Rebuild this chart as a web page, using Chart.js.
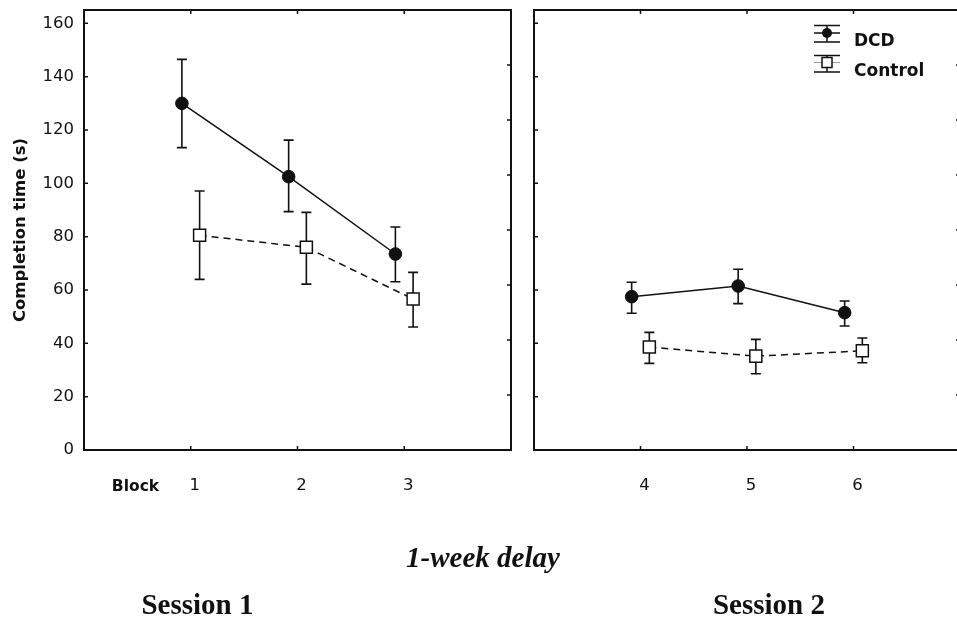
<!DOCTYPE html>
<html>
<head>
<meta charset="utf-8">
<script src="https://cdn.jsdelivr.net/npm/chart.js@4/dist/chart.umd.min.js"></script>
<style>
html,body{margin:0;padding:0;width:957px;height:619px;overflow:hidden;background:#fff;}
canvas{position:absolute;top:0;}
#c1{left:0;}
#c2{left:520px;}
.t{position:absolute;white-space:nowrap;color:#111;transform:translateX(-50%);}
</style>
</head>
<body>
<canvas id="c1" width="520" height="619"></canvas>
<canvas id="c2" width="442" height="619"></canvas>
<div class="t" style="font:bold 15.5px/1 'DejaVu Sans';left:135.5px;top:479.4px;">Block</div>
<div class="t" style="font:italic bold 29px/1 'Liberation Serif';left:483px;top:542.7px;">1-week delay</div>
<div class="t" style="font:bold 29px/1 'Liberation Serif';left:197.5px;top:589.7px;">Session 1</div>
<div class="t" style="font:bold 29px/1 'Liberation Serif';left:769px;top:589.7px;">Session 2</div>
<script>
// ---- data ----
const blocksSession1 = [1, 2, 3];
const blocksSession2 = [4, 5, 6];
const blockLabels1 = ['1', '2', '3'];
const blockLabels2 = ['4', '5', '6'];

const dcdMean  = [130.0, 102.5, 73.5, 57.5, 61.5, 51.5];
const dcdLow   = [113.4,  89.4, 63.1, 51.3, 54.9, 46.5];
const dcdHigh  = [146.5, 116.2, 83.6, 62.9, 67.8, 55.9];

const ctlMean  = [80.5, 76.0, 56.6, 38.6, 35.2, 37.2];
const ctlLow   = [64.0, 62.2, 46.1, 32.5, 28.6, 32.7];
const ctlHigh  = [97.1, 89.1, 66.6, 44.1, 41.5, 42.0];

const yTickValues = [0, 20, 40, 60, 80, 100, 120, 140, 160];
const frameTickValues = [0, 1, 2, 3, 4, 5, 6, 7, 8];

const seriesNames = ['DCD', 'Control'];
const yTitle = 'Completion time (s)';

// ---- style ----
const INK = '#111';
const GROUP_SHIFT = 0.083;
const TICK_FONT = {family: 'DejaVu Sans', size: 16.5};

function zeroPad(s) {
  s.paddingLeft = 0; s.paddingRight = 0; s.paddingTop = 0; s.paddingBottom = 0;
}

const framePlugin = {
  id: 'frameAndErrors',
  beforeDatasetsDraw(chart) {
    const {ctx, chartArea: a, scales} = chart;
    ctx.save();
    ctx.strokeStyle = INK;
    ctx.lineWidth = 2;
    ctx.strokeRect(a.left, a.top, a.right - a.left, a.bottom - a.top);
    const TL = 4;
    ctx.lineWidth = 1.5;
    ctx.beginPath();
    scales.x.ticks.forEach(t => {
      const px = scales.x.getPixelForValue(t.value);
      ctx.moveTo(px, a.bottom); ctx.lineTo(px, a.bottom - TL);
      ctx.moveTo(px, a.top); ctx.lineTo(px, a.top + TL);
    });
    scales.y.ticks.forEach(t => {
      if (t.value <= 0) return;
      const py = scales.y.getPixelForValue(t.value);
      ctx.moveTo(a.left, py); ctx.lineTo(a.left + TL, py);
    });
    scales.y2.ticks.forEach(t => {
      if (t.value <= scales.y2.min || t.value >= scales.y2.max) return;
      const py = scales.y2.getPixelForValue(t.value);
      ctx.moveTo(a.right, py); ctx.lineTo(a.right - TL, py);
    });
    ctx.stroke();
    // error bars
    ctx.lineWidth = 1.6;
    ctx.beginPath();
    chart.data.datasets.forEach(ds => {
      ds.data.forEach((p, j) => {
        const x = scales.x.getPixelForValue(p.x);
        const lo = scales.y.getPixelForValue(ds.errLow[j]);
        const hi = scales.y.getPixelForValue(ds.errHigh[j]);
        ctx.moveTo(x, lo); ctx.lineTo(x, hi);
        ctx.moveTo(x - 5, lo); ctx.lineTo(x + 5, lo);
        ctx.moveTo(x - 5, hi); ctx.lineTo(x + 5, hi);
      });
    });
    ctx.stroke();
    ctx.restore();
  }
};

const legendPlugin = {
  id: 'errLegend',
  afterDraw(chart) {
    const ctx = chart.ctx;
    const a = chart.chartArea;
    const cx = a.left + 293, x0 = cx - 13, x1 = cx + 13, tx = a.left + 320;
    ctx.save();
    ctx.strokeStyle = INK;
    ctx.fillStyle = INK;
    ctx.lineWidth = 1.5;
    // DCD symbol
    ctx.beginPath();
    ctx.moveTo(x0, 25.5); ctx.lineTo(x1, 25.5);
    ctx.moveTo(x0, 42); ctx.lineTo(x1, 42);
    ctx.moveTo(x0, 33); ctx.lineTo(x1, 33);
    ctx.moveTo(cx, 25.5); ctx.lineTo(cx, 42);
    ctx.stroke();
    ctx.beginPath(); ctx.arc(cx, 33, 5, 0, Math.PI * 2); ctx.fill();
    // Control symbol
    ctx.beginPath();
    ctx.moveTo(x0, 55.5); ctx.lineTo(x1, 55.5);
    ctx.moveTo(x0, 72); ctx.lineTo(x1, 72);
    ctx.moveTo(cx, 55.5); ctx.lineTo(cx, 72);
    ctx.stroke();
    ctx.strokeStyle = '#999'; ctx.lineWidth = 1;
    ctx.beginPath(); ctx.moveTo(x0, 62.5); ctx.lineTo(x1, 62.5); ctx.stroke();
    ctx.fillStyle = '#fff'; ctx.strokeStyle = INK; ctx.lineWidth = 1.5;
    ctx.fillRect(cx - 5, 57.5, 10, 10); ctx.strokeRect(cx - 5, 57.5, 10, 10);
    // text
    ctx.fillStyle = INK;
    ctx.font = "bold 17px 'DejaVu Sans'";
    ctx.textBaseline = 'alphabetic';
    ctx.textAlign = 'left';
    ctx.fillText(seriesNames[0], tx, 45.5);
    ctx.fillText(seriesNames[1], tx, 76.3);
    ctx.restore();
  }
};

function makeChart(canvas, blocks, labels, start, cfg) {
  const idx = blocks.map((b, k) => start + k);
  return new Chart(canvas, {
    type: 'scatter',
    data: {
      datasets: [
        {
          label: seriesNames[0],
          data: blocks.map((b, k) => ({x: b - GROUP_SHIFT, y: dcdMean[idx[k]]})),
          errLow: idx.map(i => dcdLow[i]),
          errHigh: idx.map(i => dcdHigh[i]),
          showLine: true,
          borderColor: INK,
          borderWidth: 1.5,
          pointStyle: 'circle',
          pointRadius: 6.3,
          pointBackgroundColor: INK,
          pointBorderColor: INK,
          pointBorderWidth: 1
        },
        {
          label: seriesNames[1],
          data: blocks.map((b, k) => ({x: b + GROUP_SHIFT, y: ctlMean[idx[k]]})),
          errLow: idx.map(i => ctlLow[i]),
          errHigh: idx.map(i => ctlHigh[i]),
          showLine: true,
          borderColor: INK,
          borderWidth: 1.5,
          borderDash: [7, 5],
          pointStyle: 'rect',
          pointRadius: 8.5,
          pointBackgroundColor: '#fff',
          pointBorderColor: INK,
          pointBorderWidth: 1.5
        }
      ]
    },
    options: {
      responsive: false,
      animation: false,
      devicePixelRatio: 1,
      layout: {padding: {top: 10, left: 0, right: 0, bottom: 0}},
      plugins: {legend: {display: false}, tooltip: {enabled: false}},
      scales: {
        x: {
          type: 'linear', position: 'bottom',
          min: cfg.xMin, max: cfg.xMax,
          afterBuildTicks: s => { s.ticks = blocks.map(v => ({value: v})); },
          afterFit: s => { s.height = 169; zeroPad(s); },
          grid: {display: false, drawTicks: false},
          border: {display: false},
          ticks: {
            callback: (v, i) => labels[i],
            font: TICK_FONT, color: INK, padding: 26, labelOffset: 4,
            maxRotation: 0, autoSkip: false
          }
        },
        y: {
          type: 'linear', position: 'left', min: 0, max: 165,
          afterBuildTicks: s => { s.ticks = yTickValues.map(v => ({value: v})); },
          afterFit: s => { s.width = cfg.yWidth; zeroPad(s); },
          grid: {display: false, drawTicks: false},
          border: {display: false},
          ticks: {display: cfg.showY, padding: 10, font: TICK_FONT, color: INK},
          title: {
            display: cfg.showY, text: yTitle, color: INK,
            font: {family: 'DejaVu Sans', size: 16.5, weight: 'bold'},
            padding: {top: 11, bottom: 0}
          }
        },
        y2: {
          type: 'linear', position: 'right', min: 0, max: 8,
          afterBuildTicks: s => { s.ticks = frameTickValues.map(v => ({value: v})); },
          afterFit: s => { s.width = cfg.y2Width; zeroPad(s); },
          grid: {display: false, drawTicks: false},
          border: {display: false},
          ticks: {display: false}
        }
      }
    },
    plugins: cfg.legend ? [framePlugin, legendPlugin] : [framePlugin]
  });
}

// build a panel, then correct the canvas size so the plot frame lands where intended
function createPanel(canvas, blocks, labels, start, cfg) {
  let chart = makeChart(canvas, blocks, labels, start, cfg);
  for (let k = 0; k < 3; k++) {
    const a = chart.chartArea;
    const dl = a.left - cfg.areaLeft;
    const dr = cfg.areaRight - a.right;
    if (Math.abs(dl) < 0.5 && Math.abs(dr) < 0.5) break;
    const w = canvas.width;
    chart.destroy();
    cfg.yWidth -= dl;
    canvas.width = Math.round(w + dr);
    canvas.height = 619;
    chart = makeChart(canvas, blocks, labels, start, cfg);
  }
  return chart;
}

createPanel(document.getElementById('c1'), blocksSession1, blockLabels1, 0,
  {xMin: 0, xMax: 4, yWidth: 84, y2Width: 9, showY: true, legend: false, areaLeft: 84, areaRight: 511});
createPanel(document.getElementById('c2'), blocksSession2, blockLabels2, 3,
  {xMin: 3, xMax: 7, yWidth: 14, y2Width: 2, showY: false, legend: true, areaLeft: 14, areaRight: 440});
</script>
</body>
</html>
